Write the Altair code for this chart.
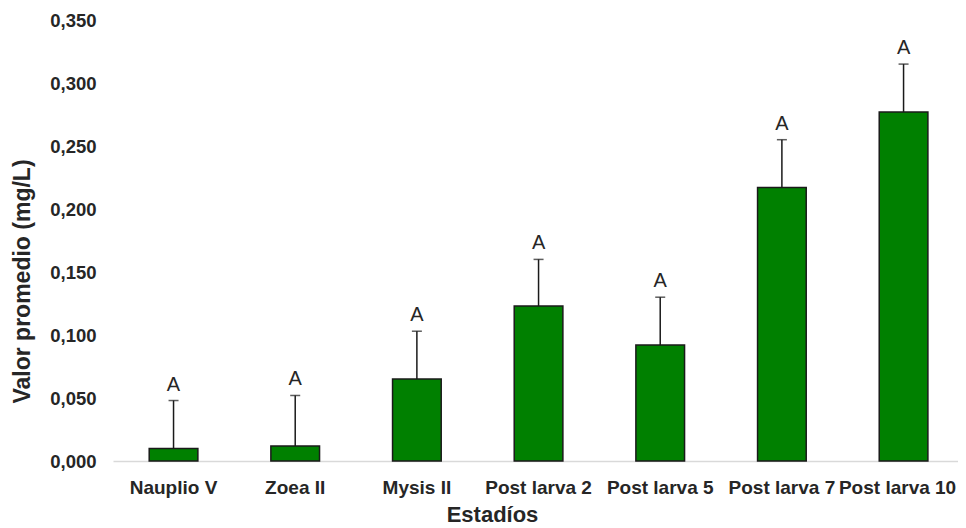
import altair as alt
import pandas as pd

estadios = ["Nauplio V", "Zoea II", "Mysis II", "Post larva 2", "Post larva 5", "Post larva 7", "Post larva 10"]
promedio = [0.010, 0.012, 0.065, 0.123, 0.092, 0.217, 0.277]
error = [0.038, 0.040, 0.038, 0.037, 0.038, 0.038, 0.038]
letras = ["A", "A", "A", "A", "A", "A", "A"]

df = pd.DataFrame({"estadio": estadios, "valor": promedio, "err": error, "letra": letras})
df["top"] = df["valor"] + df["err"]

FONT = "Liberation Sans"
TXT = "#262626"

x = alt.X("estadio:N", sort=estadios,
          scale=alt.Scale(paddingInner=0.6, paddingOuter=0.2725, align=0.546, round=False),
          axis=alt.Axis(title="Estadíos", labelAngle=0, labelFont=FONT, labelFontSize=19,
                        labelFontWeight="bold", labelColor=TXT, labelPadding=17, labelBaseline="top",
                        labelOffset=alt.ExprRef("datum.value == 'Post larva 10' ? -6 : 0"),
                        labelOverlap=False, labelBound=False,
                        ticks=False, domain=True, domainColor="#d9d9d9", domainWidth=1.5,
                        titleFont=FONT, titleFontSize=22, titleFontWeight="bold", titleColor=TXT,
                        titleX=379, titleY=53, titleBaseline="middle", titleAlign="center"))
yscale = alt.Scale(domain=[0, 0.35], nice=False)

bars = alt.Chart(df).mark_bar(color="#008000", stroke="#1a1a1a", strokeWidth=1.5).encode(
    x=x,
    y=alt.Y("valor:Q", scale=yscale,
            axis=alt.Axis(title="Valor promedio (mg/L)", values=[0, 0.05, 0.1, 0.15, 0.2, 0.25, 0.3, 0.35],
                          labelExpr="replace(format(datum.value, '.3f'), '.', ',')",
                          labelFont=FONT, labelFontSize=18.5, labelFontWeight="bold", labelColor=TXT,
                          labelPadding=17, ticks=False, domain=False, grid=False,
                          titleFont=FONT, titleFontSize=23, titleFontWeight="bold", titleColor=TXT,
                          titleX=-91, titleY=261, titleAngle=270, titleBaseline="middle", titleAlign="center")),
)

rule = alt.Chart(df).mark_rule(color="#1a1a1a", strokeWidth=1.5).encode(
    x=alt.X("estadio:N", sort=estadios),
    y=alt.Y("valor:Q", scale=yscale),
    y2="top:Q",
)

cap = alt.Chart(df).mark_tick(color="#1a1a1a", thickness=1.5, size=10, orient="horizontal").encode(
    x=alt.X("estadio:N", sort=estadios),
    y=alt.Y("top:Q", scale=yscale),
)

txt = alt.Chart(df).mark_text(font=FONT, fontSize=20, color=TXT, baseline="bottom", dy=-6).encode(
    x=alt.X("estadio:N", sort=estadios),
    y=alt.Y("top:Q", scale=yscale),
    text="letra:N",
)

chart = alt.layer(bars, rule, cap, txt).properties(
    width=845, height=441,
    background="white",
    autosize=alt.AutoSizeParams(type="none"),
    padding={"left": 105, "top": 12, "right": 0, "bottom": 64},
).configure_view(strokeWidth=0, stroke="transparent")

chart.save("out.html", embed_options={"renderer": "svg", "actions": False})
